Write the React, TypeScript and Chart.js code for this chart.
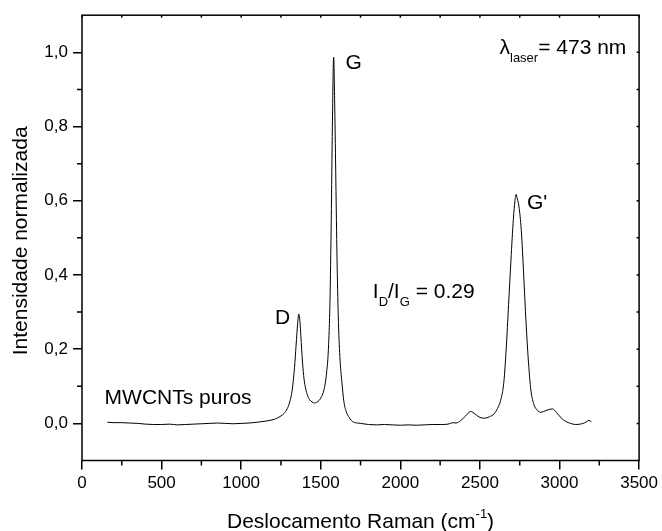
import { useEffect, useRef } from 'react';
import { Chart, registerables } from 'chart.js';
Chart.register(...registerables);

const ramanShift = [
  160, 200, 250, 300, 350, 400, 450, 500, 550, 600, 650, 700, 750, 800, 850, 900, 950, 1000,
  1050, 1100, 1150, 1200, 1230, 1250, 1270, 1290, 1305, 1320, 1335, 1345, 1355, 1362, 1370,
  1380, 1390, 1400, 1415, 1430, 1445, 1460, 1475, 1490, 1505, 1520, 1535, 1548, 1558, 1566,
  1573, 1581, 1588, 1595, 1602, 1610, 1620, 1633, 1645, 1660, 1680, 1700, 1750, 1800, 1850,
  1900, 1950, 2000, 2050, 2100, 2150, 2200, 2250, 2300, 2330, 2350, 2380, 2410, 2442, 2470,
  2500, 2530, 2560, 2590, 2610, 2630, 2650, 2665, 2680, 2695, 2710, 2720, 2727, 2735, 2745,
  2760, 2775, 2790, 2805, 2820, 2840, 2860, 2880, 2900, 2930, 2956, 2980, 3010, 3040, 3070,
  3100, 3130, 3160, 3185, 3200,
];
const intensity = [
  0.003, 0.002, 0.002, 0.001, 0.0, -0.002, -0.003, -0.003, -0.002, -0.004, -0.003, -0.002,
  -0.001, 0.0, 0.001, 0.0, -0.001, 0.0, 0.001, 0.003, 0.006, 0.01, 0.015, 0.02, 0.027, 0.04,
  0.058, 0.088, 0.15, 0.21, 0.27, 0.295, 0.27, 0.2, 0.14, 0.105, 0.078, 0.064, 0.058, 0.055,
  0.057, 0.062, 0.072, 0.09, 0.13, 0.2, 0.33, 0.55, 0.8, 0.987, 0.85, 0.65, 0.45, 0.29, 0.18,
  0.11, 0.06, 0.032, 0.015, 0.005, 0.0, -0.003, -0.004, -0.003, -0.004, -0.005, -0.004,
  -0.005, -0.004, -0.003, -0.003, -0.002, 0.002, 0.001, 0.008, 0.02, 0.032, 0.025, 0.016,
  0.014, 0.018, 0.026, 0.04, 0.062, 0.11, 0.2, 0.32, 0.44, 0.55, 0.6, 0.617, 0.605, 0.585,
  0.52, 0.4, 0.27, 0.165, 0.09, 0.05, 0.036, 0.03, 0.032, 0.037, 0.039, 0.03, 0.015, 0.005,
  0.0, -0.003, -0.002, 0.002, 0.008, 0.004,
];
const xTickValues = [0, 500, 1000, 1500, 2000, 2500, 3000, 3500];
const xMinorValues = [250, 750, 1250, 1750, 2250, 2750, 3250];
const yTickValues = [0, 0.2, 0.4, 0.6, 0.8, 1.0];
const yMinorValues = [0.1, 0.3, 0.5, 0.7, 0.9];
const xTitle = 'Deslocamento Raman (cm';
const xTitleSup = '-1';
const yTitle = 'Intensidade normalizada';

type Run = { t: string; mode?: 'sub' | 'sup' };
const labels: { runs: Run[]; x: number; y: number }[] = [
  { runs: [{ t: 'D' }], x: 1212, y: 0.267 },
  { runs: [{ t: 'G' }], x: 1656, y: 0.955 },
  { runs: [{ t: "G'" }], x: 2796, y: 0.579 },
  { runs: [{ t: 'MWCNTs puros' }], x: 142, y: 0.051 },
  { runs: [{ t: 'I' }, { t: 'D', mode: 'sub' }, { t: '/I' }, { t: 'G', mode: 'sub' }, { t: ' = 0.29' }], x: 1827, y: 0.339 },
  { runs: [{ t: 'λ' }, { t: 'laser', mode: 'sub' }, { t: '= 473 nm' }], x: 2623, y: 0.995 },
];

const FONT = "'Liberation Sans', Arial, Helvetica, sans-serif";
const BIG = 21;
const SMALL = 13;

function drawRuns(ctx: CanvasRenderingContext2D, runs: Run[], x: number, y: number) {
  let cx = x;
  for (const r of runs) {
    const small = !!r.mode;
    ctx.font = `${small ? SMALL : BIG}px ${FONT}`;
    const dy = r.mode === 'sub' ? 8 : r.mode === 'sup' ? -10 : 0;
    ctx.fillText(r.t, cx, y + dy);
    cx += ctx.measureText(r.t).width;
  }
}

function runsWidth(ctx: CanvasRenderingContext2D, runs: Run[]) {
  let w = 0;
  for (const r of runs) {
    ctx.font = `${r.mode ? SMALL : BIG}px ${FONT}`;
    w += ctx.measureText(r.t).width;
  }
  return w;
}

const decorPlugin = {
  id: 'decor',
  afterDraw(chart: any) {
    const ctx: CanvasRenderingContext2D = chart.ctx;
    const { left, right, top, bottom } = chart.chartArea;
    const xs = chart.scales.x;
    const ys = chart.scales.y;
    ctx.save();
    ctx.strokeStyle = '#000';
    ctx.fillStyle = '#000';
    ctx.lineWidth = 1.5;
    ctx.strokeRect(left, top, right - left, bottom - top);
    // minor outward ticks
    ctx.beginPath();
    for (const v of xMinorValues) {
      const px = xs.getPixelForValue(v);
      ctx.moveTo(px, bottom);
      ctx.lineTo(px, bottom + 5);
    }
    for (const v of yMinorValues) {
      const py = ys.getPixelForValue(v);
      ctx.moveTo(left, py);
      ctx.lineTo(left - 5, py);
    }
    // inward ticks on top and right
    for (const v of [...xTickValues, ...xMinorValues]) {
      const px = xs.getPixelForValue(v);
      ctx.moveTo(px, top);
      ctx.lineTo(px, top + 2.5);
    }
    for (const v of [...yTickValues, ...yMinorValues]) {
      const py = ys.getPixelForValue(v);
      ctx.moveTo(right, py);
      ctx.lineTo(right - 2.5, py);
    }
    ctx.stroke();

    ctx.textBaseline = 'alphabetic';
    ctx.textAlign = 'left';
    for (const l of labels) {
      drawRuns(ctx, l.runs, xs.getPixelForValue(l.x), ys.getPixelForValue(l.y));
    }
    // x title
    const xRuns: Run[] = [{ t: xTitle }, { t: xTitleSup, mode: 'sup' }, { t: ')' }];
    const w = runsWidth(ctx, xRuns);
    drawRuns(ctx, xRuns, (left + right) / 2 - w / 2, 528);
    // y title
    ctx.save();
    ctx.translate(27, (top + bottom) / 2 + 3);
    ctx.rotate(-Math.PI / 2);
    ctx.font = `${BIG}px ${FONT}`;
    ctx.textAlign = 'center';
    ctx.fillText(yTitle, 0, 0);
    ctx.restore();
    ctx.restore();
  },
};

export default function App() {
  const ref = useRef<HTMLCanvasElement | null>(null);
  useEffect(() => {
    document.body.style.margin = '0';
    const canvas = ref.current!;
    const chart = new Chart(canvas, {
      type: 'line',
      data: {
        datasets: [
          {
            data: ramanShift.map((x, i) => ({ x, y: intensity[i] })),
            borderColor: '#000',
            borderWidth: 1,
            pointRadius: 0,
            cubicInterpolationMode: 'monotone',
            fill: false,
          },
        ],
      },
      options: {
        responsive: false,
        animation: false,
        events: [],
        layout: { padding: { top: 10, right: 21, left: 0, bottom: 0 } },
        plugins: { legend: { display: false }, tooltip: { enabled: false } },
        scales: {
          x: {
            type: 'linear',
            min: 0,
            max: 3500,
            afterBuildTicks: (s: any) => {
              s.ticks = xTickValues.map((v) => ({ value: v }));
            },
            afterFit: (s: any) => {
              s.height = 70.5;
            },
            border: { display: false },
            grid: { display: true, drawOnChartArea: false, drawTicks: true, tickLength: 9, color: '#000', lineWidth: 1.5 },
            ticks: {
              color: '#000',
              padding: 4,
              maxRotation: 0,
              autoSkip: false,
              font: { family: FONT, size: 17 },
              callback: (v: any) => String(v),
            },
          },
          y: {
            type: 'linear',
            min: -0.1,
            max: 1.1,
            afterBuildTicks: (s: any) => {
              s.ticks = yTickValues.map((v) => ({ value: v }));
            },
            afterFit: (s: any) => {
              s.width = 82;
            },
            border: { display: false },
            grid: { display: true, drawOnChartArea: false, drawTicks: true, tickLength: 9, color: '#000', lineWidth: 1.5 },
            ticks: {
              color: '#000',
              padding: 5,
              autoSkip: false,
              font: { family: FONT, size: 17 },
              callback: (v: any) => Number(v).toFixed(1).replace('.', ','),
            },
          },
        },
      },
      plugins: [decorPlugin],
    } as any);
    return () => chart.destroy();
  }, []);
  return <canvas ref={ref} width={662} height={531} style={{ display: 'block' }} />;
}
